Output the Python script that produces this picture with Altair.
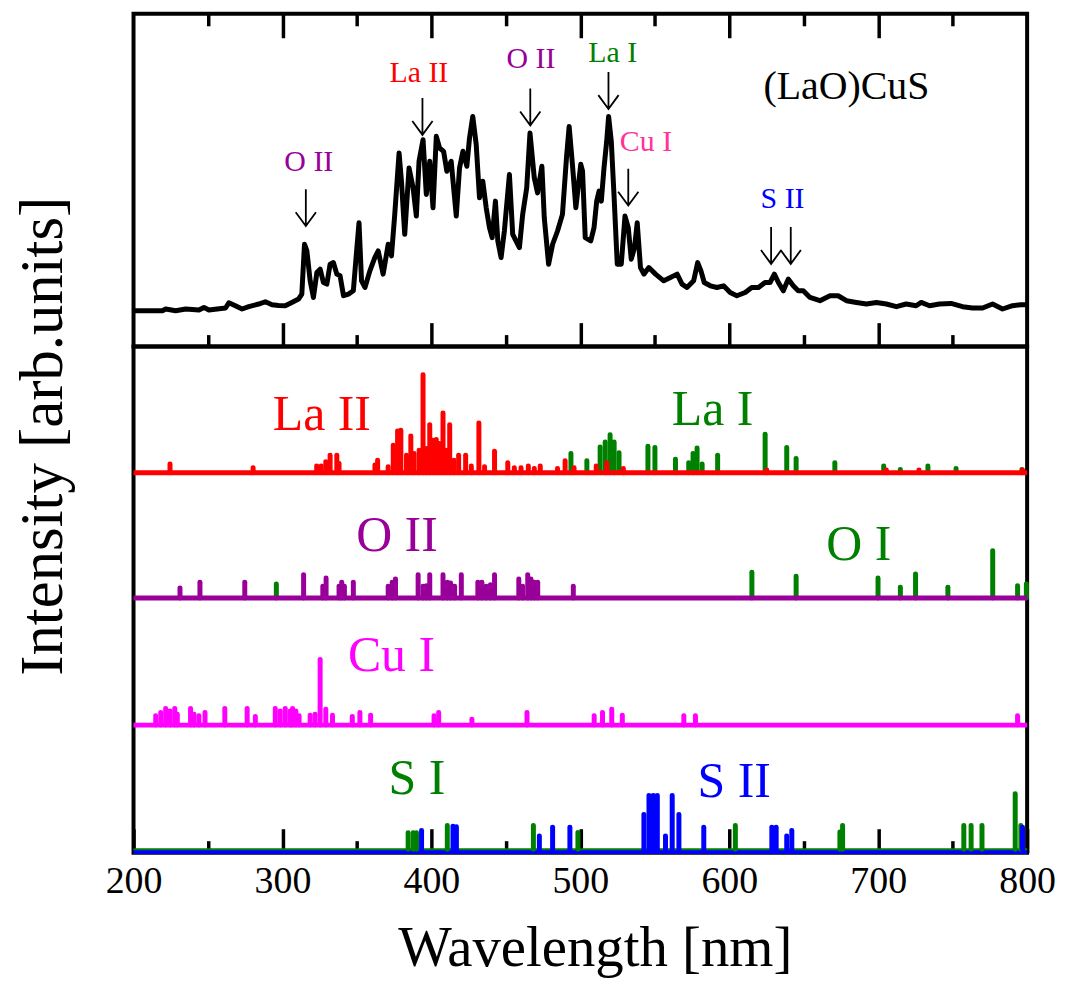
import altair as alt
import pandas as pd

FONT = "Liberation Serif"

# ---------------- top panel: measured spectrum of (LaO)CuS ----------------
spec_lam = [200, 219.4, 221.6, 228.3, 235, 243.9, 247.3, 250.6, 261.8, 264, 268.4, 272.9, 277.4, 284, 288.5,
            293, 297.4, 301.9, 306.3, 310.8, 313, 314.8, 316.4, 318.6, 320.8, 323.1, 325.3, 327.5, 329.8, 332,
            334.2, 336.5, 338.7, 341, 344.3, 347.6, 349.8, 351.4, 353.1, 355.4, 358.7, 362, 364.3, 367.6, 371,
            373.2, 375.4, 378.3, 379.9, 382.1, 385, 387.7, 389.9, 391.7, 394.4, 396.6, 398.9, 401.1, 403.3,
            405.5, 408.2, 410.4, 413.3, 416.7, 418.9, 421.2, 423.8, 425.6, 427.8, 430.1, 432.3, 434.5, 436.8,
            439, 440.8, 443, 444.6, 446.8, 449, 452.4, 454.6, 456.8, 459.1, 461.3, 464, 466.2, 469.1, 471.3,
            474.2, 475.8, 478.7, 481.4, 484.7, 488, 490.7, 492.5, 494.7, 497, 500.3, 501.5, 503.3, 507, 509.2,
            511, 512.6, 514.1, 515.9, 517.7, 519, 520.8, 522.6, 524.8, 527.5, 530, 532.2, 534.2, 536.4, 538.2,
            540.4, 542.7, 546, 550.5, 556, 560.5, 565, 568.3, 571.6, 576.1, 578.8, 581, 583.2, 587.3, 591.7,
            596.2, 600.6, 605.1, 610.7, 615.1, 619.6, 624, 627.4, 630.3, 633, 636.3, 639.6, 643, 646.3, 649.7,
            654.2, 660.9, 667.6, 673.1, 678.7, 685.4, 692.1, 698.8, 705.5, 712.2, 718.8, 725.5, 728.9, 734.5,
            741.1, 748.9, 756.7, 763.4, 770.1, 776.8, 783.5, 790.2, 795.8, 800]
spec_int = [0, 0, 1.7, 0, 1.7, 0.7, 3.3, 0.7, 2.7, 8, 5, 1.7, 4, 6.7, 9,
            6, 5.3, 5, 8.3, 11.7, 16.7, 66.7, 60, 30, 13.3, 38.3, 41.7, 28.3, 26.7, 46.7,
            48.3, 36.7, 35, 15, 16.7, 20, 60, 88.3, 30, 23.3, 40, 53.3, 60, 36.7, 66.7,
            55, 96.7, 158.3, 130, 76.7, 143.3, 123.3, 95, 150, 171.7, 116.7, 150, 103.3, 175,
            163.3, 160, 140, 150, 95, 143.3, 160, 145, 173.3, 195, 166.7, 113.3, 130, 103.3,
            83.3, 73.3, 110, 70, 53.3, 80, 136.7, 76.7, 70, 63.3, 96.7, 123.3, 178.3, 133.3, 118.3,
            145, 93.3, 46.7, 66.7, 80, 96.7, 153.3, 185, 146.7, 103.3, 147, 140, 73.3, 70, 83.3,
            110, 120, 110, 143.3, 170, 195, 170, 116.7, 46.7, 46.7, 95, 83.3, 51.7, 63.3, 88.3,
            43.3, 36.7, 43.3, 36.7, 30, 33.3, 36.7, 26.7, 23.3, 30, 48.3, 40, 28.3, 25, 23.3,
            25, 18.3, 15, 18.3, 23.3, 23.3, 28.3, 28.3, 36.7, 28.3, 20, 31.7, 25, 20, 20,
            13.3, 10, 15, 15, 10, 8.3, 6.7, 8.3, 6.7, 4, 6.7, 5, 8.3, 5,
            6.7, 7.3, 4, 2.7, 2.7, 6.7, 1.7, 5, 6, 6]

ann_text = ["O II", "La II", "O II", "La I", "Cu I", "S II"]
ann_lam = [317.7, 391.6, 466.9, 521.7, 544.1, 635.8]
ann_int = [149, 239, 252.5, 259, 169, 112.5]

arrow_lam = [315.7, 394.0, 466.4, 518.9, 532.2, 628.1, 641.3]
arrow_int = [103.5, 195, 204.5, 221, 124, 65.5, 65.5]

sample_name = ["(LaO)CuS"]
sample_lam = [678.7]
sample_int = [225]

y_title = ["Intensity [arb.units]"]

# ---------------- bottom panel: reference line spectra ----------------
laII_lam = [224.5, 280.3, 323.0, 326.0, 329.1, 332.0, 336.5, 338.0, 362.1, 363.9, 371.0, 374.4, 377.3, 379.5,
            383.3, 386.2, 388.4, 391.8, 394.4, 396.7, 398.9, 401.1, 403.3, 405.6, 407.8, 410.0, 412.3, 415.2,
            418.3, 423.0, 426.8, 431.9, 435.7, 442.4, 451.3, 455.7, 460.2, 465.1, 469.1, 473.1, 484.7, 489.8,
            495.8, 510.7, 517.8, 528.9, 625.2, 705.5, 727.4, 796.9]
laII_h = [8.7, 5, 6.7, 6.7, 11, 17.7, 17.7, 9.3, 7.7, 12.7, 6, 27.7, 42, 42.7,
          17.7, 37, 19.3, 22.7, 98.3, 24.3, 48.3, 32.7, 33.3, 29.3, 60, 22.7, 48.3, 12.7,
          17.7, 17.7, 6.7, 50, 6, 21.7, 10, 5, 5, 6.7, 4.3, 6.7, 4.3, 12,
          5, 6.7, 10, 4.3, 2.7, 2.7, 2.7, 2.7]
laI_lam = [493.7, 504.4, 513.3, 516.7, 520.0, 522.7, 526.0, 545.4, 550.1, 563.9, 572.8, 575.7, 578.4, 581.8,
           592.2, 624.1, 638.6, 644.9, 670.9, 703.7, 714.9, 733.4, 752.3, 796.5]
laI_h = [19.3, 12, 26, 31, 38.3, 31, 20, 26.7, 25.3, 13.7, 10, 19.3, 25, 8.7,
         17.7, 38.7, 25.3, 14.3, 10, 6.7, 3.3, 6.7, 4.3, 3.3]
oII_lam = [231.2, 244.6, 274.7, 314.2, 327.1, 329.3, 338.0, 339.8, 341.6, 347.6, 371.0, 373.7, 375.9, 391.1,
           394.4, 396.7, 398.9, 407.8, 410.7, 412.9, 415.6, 420.1, 431.2, 433.9, 436.8, 439.7, 442.4, 458.7,
           461.3, 464.7, 466.9, 469.1, 471.4, 495.3]
oII_h = [10, 15.7, 15.7, 23.3, 11.7, 20, 11.7, 15.7, 11.7, 15.7, 11.7, 15.7, 19, 23.3,
         11.7, 12.3, 23.3, 23.3, 15.7, 15, 11.7, 23.3, 15.7, 15.7, 11.7, 13.3, 23.3, 19,
         11.7, 23.3, 19, 15.7, 15.7, 11.7]
oI_lam = [295.9, 615.2, 644.9, 699.9, 714.9, 725.1, 746.8, 776.9, 793.6, 799.5]
oI_h = [14, 25.7, 21.7, 20, 10.7, 24, 10.7, 47.3, 12.3, 14]
cuI_lam = [214.9, 218.3, 221.6, 224.5, 227.7, 229.4, 238.3, 240.6, 243.9, 248.0, 261.3, 276.3, 281.8, 295.2,
           298.5, 301.9, 305.2, 306.8, 309.0, 311.2, 318.6, 321.9, 325.3, 329.1, 333.6, 346.9, 352.0, 359.2,
           401.8, 404.9, 427.2, 464.2, 509.3, 514.9, 521.1, 528.2, 569.5, 577.3, 793.6]
cuI_h = [9.3, 12.7, 16.7, 14.3, 16.7, 11, 16.7, 11, 9.3, 12.7, 16.7, 16.7, 8.7, 16.7,
         14.3, 16.7, 14.3, 16.7, 14.3, 9.3, 10, 11, 66, 16, 10, 8.7, 12.7, 10,
         9.3, 12.7, 6, 12.7, 9.3, 12.7, 16, 10, 9.3, 9.3, 9.3]
sI_lam = [384.4, 387.8, 390.0, 410.7, 468.5, 498.4, 604.1, 674.3, 676.1, 757.5, 762.4, 769.7, 792.0, 795.8]
sI_h = [16.7, 16.7, 16.7, 24, 24, 17, 24, 17.3, 24, 24, 24, 24, 55.7, 24]
sII_lam = [393.4, 414.5, 416.8, 472.5, 481.4, 493.0, 542.7, 546.1, 549.0, 551.7, 557.2, 561.7, 566.2, 582.9,
           628.6, 631.5, 638.6, 642.0, 796.9]
sII_h = [19, 23.3, 22.7, 13.3, 22.3, 22.3, 35, 54, 54, 54, 13.3, 54, 35, 22.3,
         22.3, 22.3, 13.3, 19, 22.3]

# baseline level of each row in the lower panel (same units as the line heights)
row_base = {"La": 381.3, "O": 255.7, "Cu": 128.0, "S": 3.3, "S_blue": 1.2}

bot_label_text = ["La II", "La I", "O II", "O I", "Cu I", "S I", "S II"]
bot_label_lam = [326.4, 588.8, 376.9, 687.0, 373.2, 390.3, 603.3]
bot_label_y = [439, 444.5, 317.5, 308.5, 197.5, 74, 71]

# ---------------- styles ----------------
RED, GREEN, PURPLE, MAGENTA, BLUE, PINK = "#ff0000", "#008000", "#990099", "#ff00ff", "#0000ff", "#ff3399"
top_colors = {"O II": PURPLE, "La II": RED, "La I": GREEN, "Cu I": PINK, "S II": BLUE}
bot_colors = {"La II": RED, "La I": GREEN, "O II": PURPLE, "O I": GREEN, "Cu I": MAGENTA, "S I": GREEN, "S II": BLUE}

W, H_TOP, H_BOT = 897, 334, 508
x_scale = alt.Scale(domain=[200, 800], nice=False, zero=False)
y_top = alt.Scale(domain=[-36, 298], nice=False, zero=False)
y_bot = alt.Scale(domain=[0, 508], nice=False, zero=False)
major = [300, 400, 500, 600, 700]
minor = [250, 350, 450, 550, 650, 750]
MAJ, MIN = 24, 12
STICK_W = 5


def tick_axis(orient, values, size):
    return alt.Axis(orient=orient, values=values, tickSize=size, offset=-size, domain=False,
                    labels=False, title=None, grid=False, tickColor="black", tickWidth=3.5)


# ---------------- top panel ----------------
top_df = pd.DataFrame({"lam": spec_lam, "y": spec_int})
ann_df = pd.DataFrame({"lam": ann_lam, "y": ann_int, "label": ann_text})
arrow_df = pd.DataFrame({"lam": arrow_lam, "y": arrow_int})
name_df = pd.DataFrame({"lam": sample_lam, "y": sample_int, "label": sample_name})

ARROW = "M0,-1L0,1M-0.55,0.25L0,1L0.55,0.25"

spec_line = alt.Chart(top_df).mark_line(color="black", strokeWidth=5, strokeJoin="round").encode(
    x=alt.X("lam:Q", scale=x_scale, axis=tick_axis("bottom", major, MAJ)),
    y=alt.Y("y:Q", scale=y_top, axis=None),
)
ann = alt.Chart(ann_df).mark_text(font=FONT, fontSize=30, align="center", baseline="middle").encode(
    x=alt.X("lam:Q", scale=x_scale, axis=tick_axis("bottom", minor, MIN)),
    y=alt.Y("y:Q", scale=y_top, axis=None),
    text="label:N",
    color=alt.Color("label:N", scale=alt.Scale(domain=list(top_colors), range=list(top_colors.values())), legend=None),
)
arrows = alt.Chart(arrow_df).mark_point(shape=ARROW, size=1369, filled=False, color="black",
                                        strokeWidth=1.8, opacity=1).encode(
    x=alt.X("lam:Q", scale=x_scale, axis=tick_axis("top", major, MAJ)),
    y=alt.Y("y:Q", scale=y_top, axis=None),
)
name = alt.Chart(name_df).mark_text(font=FONT, fontSize=40, align="center", baseline="middle",
                                    color="black").encode(
    x=alt.X("lam:Q", scale=x_scale, axis=tick_axis("top", minor, MIN)),
    y=alt.Y("y:Q", scale=y_top, axis=None),
    text="label:N",
)
top = alt.layer(spec_line, ann, arrows, name).resolve_axis(x="independent").properties(width=W, height=H_TOP)


# ---------------- bottom panel ----------------
def sticks(lams, hs, base, color, x_axis=None):
    df = pd.DataFrame({"lam": lams, "y": [base] * len(lams), "y2": [base + h for h in hs]})
    return alt.Chart(df).mark_rule(color=color, strokeWidth=STICK_W, strokeCap="round").encode(
        x=alt.X("lam:Q", scale=x_scale, axis=x_axis),
        y=alt.Y("y:Q", scale=y_bot, axis=None),
        y2="y2:Q",
    )


def baseline(base, color, width):
    df = pd.DataFrame({"lam": [200], "lam2": [800], "y": [base]})
    return alt.Chart(df).mark_rule(color=color, strokeWidth=width).encode(
        x=alt.X("lam:Q", scale=x_scale, axis=None),
        x2="lam2:Q",
        y=alt.Y("y:Q", scale=y_bot, axis=None),
    )


main_x_axis = alt.Axis(orient="bottom", values=[200, 300, 400, 500, 600, 700, 800], tickSize=MAJ, offset=-MAJ,
                       domain=False, grid=False, tickColor="black", tickWidth=3.5,
                       labels=True, labelFont=FONT, labelFontSize=38, labelColor="black", labelPadding=10,
                       labelFlush=False, labelOverlap=False,
                       title="Wavelength [nm]", titleFont=FONT, titleFontSize=57, titleFontWeight="normal",
                       titleColor="black", titlePadding=20, titleX=463)

bot_label_df = pd.DataFrame({"lam": bot_label_lam, "y": bot_label_y, "label": bot_label_text})
bot_labels = alt.Chart(bot_label_df).mark_text(font=FONT, fontSize=50, align="center", baseline="middle").encode(
    x=alt.X("lam:Q", scale=x_scale, axis=None),
    y=alt.Y("y:Q", scale=y_bot, axis=None),
    text="label:N",
    color=alt.Color("label:N", scale=alt.Scale(domain=list(bot_colors), range=list(bot_colors.values())), legend=None),
)

# y-axis title spanning both panels (placed to the left of the lower panel)
y_title_mark = alt.Chart(pd.DataFrame({"t": y_title})).mark_text(
    font=FONT, fontSize=61, angle=270, align="center", baseline="middle", color="black"
).encode(text="t:N", x=alt.value(-89.5), y=alt.value(90))

bottom = alt.layer(
    sticks(laI_lam, laI_h, row_base["La"], GREEN, x_axis=main_x_axis),
    sticks(laII_lam, laII_h, row_base["La"], RED, x_axis=tick_axis("bottom", minor, MIN)),
    baseline(row_base["La"], RED, 5),
    sticks(oI_lam, oI_h, row_base["O"], GREEN),
    baseline(row_base["O"], PURPLE, 5),
    sticks(oII_lam, oII_h, row_base["O"], PURPLE),
    baseline(row_base["Cu"], MAGENTA, 5),
    sticks(cuI_lam, cuI_h, row_base["Cu"], MAGENTA),
    baseline(row_base["S_blue"], BLUE, 5),
    sticks(sI_lam, sI_h, row_base["S"], GREEN),
    baseline(row_base["S"], GREEN, 2),
    sticks(sII_lam, sII_h, row_base["S"], BLUE),
    bot_labels,
    y_title_mark,
).resolve_axis(x="independent").properties(width=W, height=H_BOT)

chart = alt.vconcat(top, bottom, spacing=0, bounds="flush").resolve_scale(color="independent").properties(
    padding={"left": 3, "top": 0, "right": 0, "bottom": 0}
).configure_view(stroke="black", strokeWidth=4).configure_text(font=FONT)

chart.save("out.html", embed_options={"renderer": "svg", "actions": False})
